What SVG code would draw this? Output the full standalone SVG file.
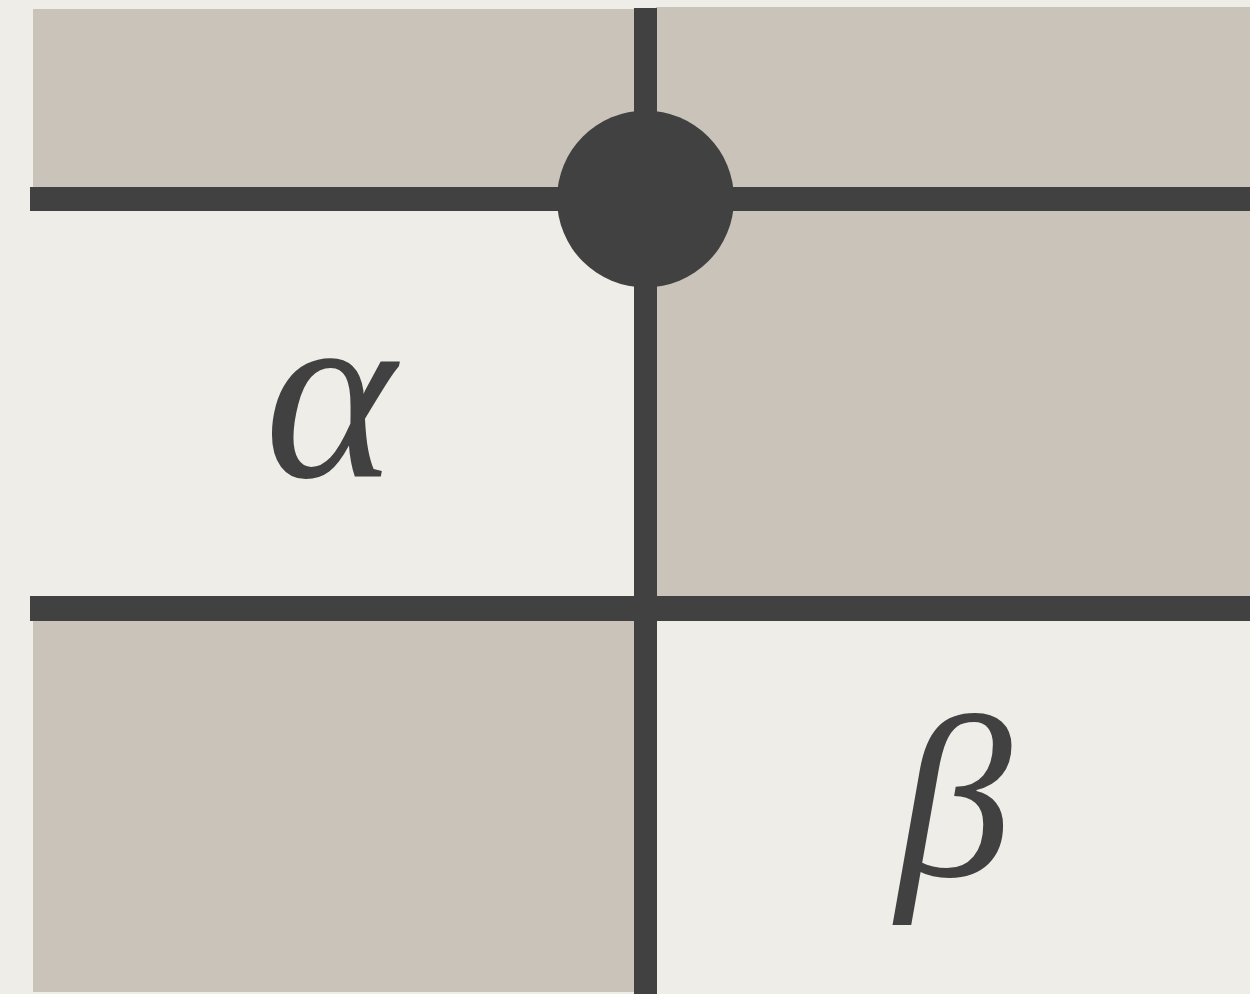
<svg xmlns="http://www.w3.org/2000/svg" width="1250" height="994" viewBox="0 0 1250 994">
  <style>
    .shade { fill: #cac3ba; }
    .line { fill: #414141; }
    .lbl { font-family: "Liberation Serif", "DejaVu Serif", serif; font-style: italic; font-size: 250px; fill: #414141; text-anchor: middle; }
  </style>
  <rect x="0" y="0" width="1250" height="994" fill="#efede8"/>
  <g id="regions">
    <rect class="shade" x="33" y="9" width="601" height="179"/>
    <rect class="shade" x="656" y="7" width="594" height="181"/>
    <rect class="shade" x="656" y="210" width="594" height="387"/>
    <rect class="shade" x="33" y="620" width="601" height="372"/>
  </g>
  <g id="connectors">
    <rect class="line" x="30" y="187" width="1220" height="24"/>
    <rect class="line" x="30" y="596" width="1220" height="25"/>
    <rect class="line" x="634" y="8" width="23" height="986"/>
  </g>
  <g id="node-vertex">
    <circle class="line" cx="645.5" cy="199" r="88.5"/>
  </g>
  <g id="label-alpha">
    <text class="lbl" x="330" y="477">α</text>
  </g>
  <g id="label-beta">
    <text class="lbl" x="954" y="876" style="font-size:232px">β</text>
  </g>
</svg>
